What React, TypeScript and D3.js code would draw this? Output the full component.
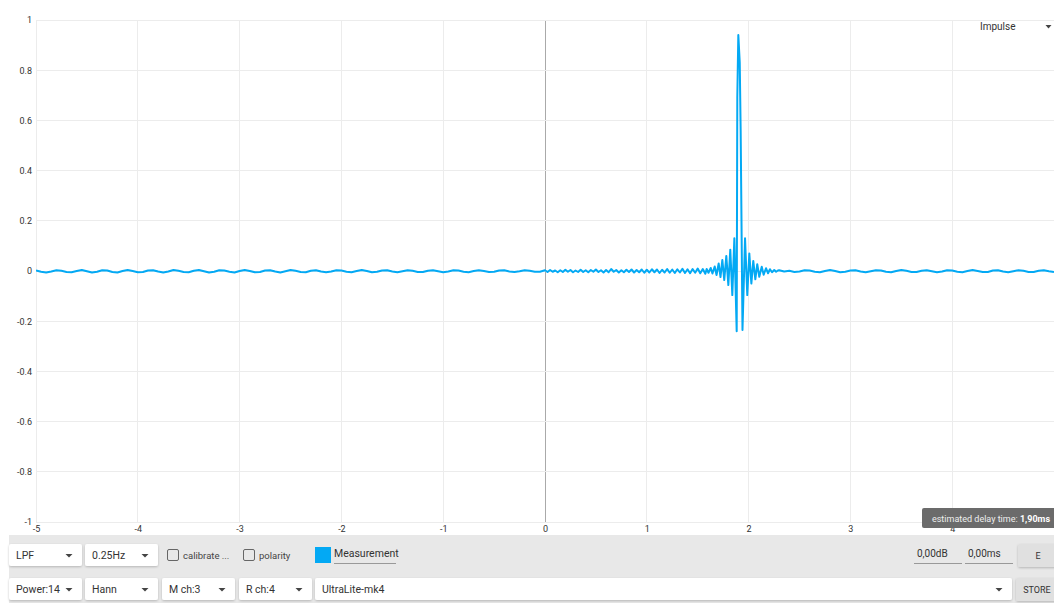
import * as d3 from "d3";
import React, { useEffect, useRef } from "react";

// impulse response samples (ms, amplitude)
const leftStart = -5;
const leftStep = 0.05;
const leftTail = [
  0.002, -0.003, -0.006, -0.002, 0.003, 0.001, -0.004, -0.005, 0.0, 0.004, -0.001, -0.006, -0.003, 0.003, 0.002, -0.004, -0.006, 0.0, 0.004, 0.0,
  -0.005, -0.004, 0.002, 0.003, -0.002, -0.006, -0.002, 0.004, 0.001, -0.004, -0.005, 0.001, 0.004, -0.001, -0.006, -0.003, 0.003, 0.002, -0.003, -0.006,
  0.0, 0.004, 0.0, -0.005, -0.004, 0.002, 0.003, -0.002, -0.006, -0.001, 0.004, 0.001, -0.004, -0.005, 0.001, 0.003, -0.002, -0.005, -0.002, 0.003,
  0.002, -0.003, -0.005, 0.0, 0.004, 0.0, -0.005, -0.003, 0.002, 0.003, -0.002, -0.005, -0.001, 0.003, 0.001, -0.004, -0.004, 0.001, 0.003, -0.001,
  -0.005, -0.002, 0.003, 0.002, -0.003, -0.005, 0.0, 0.003, 0.0, -0.004, -0.003, 0.002, 0.003, -0.002, -0.004, -0.001, 0.003, 0.001, -0.003, -0.003,
];

const preStart = 0;
const preStep = 0.025;
const preRing = [
  0.003, -0.004, 0.004, -0.003, 0.002, -0.005, 0.003, -0.004, 0.005, -0.003,
  0.004, -0.005, 0.002, -0.004, 0.005, -0.004, 0.003, -0.005, 0.004, -0.003,
  0.006, -0.004, 0.003, -0.006, 0.004, -0.005, 0.008, -0.003, 0.004, -0.006,
  0.003, -0.005, 0.005, -0.004, 0.006, -0.006, 0.004, -0.005, 0.006, -0.007,
  0.005, -0.006, 0.007, -0.005, 0.006, -0.008, 0.005, -0.006, 0.008, -0.007,
  0.006, -0.008, 0.007, -0.006, 0.009, -0.008, 0.007, -0.009, 0.008, -0.007,
  0.01, -0.009, 0.008, -0.011,
];

const impulseT = [
  1.588, 1.606, 1.628, 1.645, 1.667, 1.685, 1.706, 1.724, 1.742, 1.761, 1.781, 1.801, 1.82, 1.84, 1.86, 1.883, 1.889, 1.899, 1.913,
  1.922, 1.94, 1.965, 1.987, 2.007, 2.027, 2.046, 2.066, 2.085, 2.105, 2.129, 2.148, 2.171, 2.191, 2.21, 2.23, 2.252, 2.27, 2.288,
];
const impulseV = [
  0.008, -0.007, 0.012, -0.01, 0.018, -0.016, 0.03, -0.024, 0.044, -0.036, 0.06, -0.056, 0.085, -0.096, 0.13, -0.24, 0.69, 0.94, 0.83,
  0.56, -0.235, 0.13, -0.096, 0.07, -0.05, 0.04, -0.033, 0.027, -0.023, 0.017, -0.015, 0.011, -0.009, 0.007, -0.005, 0.004, -0.003, 0.002,
];

const rightStart = 2.3;
const rightStep = 0.05;
const rightTail = [
  0.003, -0.002, 0.001, -0.004, -0.002, 0.003, 0.002, -0.003, -0.005, 0.0,
  0.004, 0.0, -0.005, -0.003, 0.002, 0.003, -0.002, -0.005, -0.001, 0.003,
  0.002, -0.003, -0.005, 0.0, 0.004, 0.001, -0.004, -0.004, 0.001, 0.003,
  -0.001, -0.005, -0.002, 0.003, 0.002, -0.003, -0.005, 0.0, 0.004, 0.0,
  -0.004, -0.004, 0.002, 0.003, -0.002, -0.005, -0.001, 0.003, 0.001, -0.004,
  -0.004, 0.001, 0.003, -0.001, -0.004,
];

const xGrid = [-5, -4, -3, -2, -1, 0, 1, 2, 3, 4, 5];
const xTicks = [-5, -4, -3, -2, -1, 0, 1, 2, 3, 4];
const yTicks = [-1, -0.8, -0.6, -0.4, -0.2, 0, 0.2, 0.4, 0.6, 0.8, 1];

const row1Selects = [
  { label: "LPF", x: 9 },
  { label: "0.25Hz", x: 85 },
];
const row2Selects = [
  { label: "Power:14", x: 9 },
  { label: "Hann", x: 85 },
  { label: "M ch:3", x: 162 },
  { label: "R ch:4", x: 239 },
];

const FONT = "Roboto, 'Noto Sans', sans-serif";

export default function App() {
  const ref = useRef<SVGSVGElement>(null);

  useEffect(() => {
    const width = 1054;
    const height = 603;
    const svg = d3.select(ref.current);
    svg.selectAll("*").remove();
    svg.attr("width", width).attr("height", height).style("font-family", FONT);

    const x = d3.scaleLinear().domain([-5, 5]).range([36, 1054]);
    const y = d3.scaleLinear().domain([-1, 1]).range([522, 20]);

    const series = [
      ...leftTail.map((v, i) => ({ t: leftStart + i * leftStep, v })),
      ...preRing.map((v, i) => ({ t: preStart + i * preStep, v })),
      ...impulseT.map((t, i) => ({ t, v: impulseV[i] })),
      ...rightTail.map((v, i) => ({ t: rightStart + i * rightStep, v })),
    ];

    const defs = svg.append("defs");
    const f = defs.append("filter").attr("id", "shadow").attr("x", "-10%").attr("y", "-20%").attr("width", "120%").attr("height", "150%");
    f.append("feDropShadow").attr("dx", 0).attr("dy", 1).attr("stdDeviation", 1).attr("flood-color", "#000").attr("flood-opacity", 0.22);
    defs.append("clipPath").attr("id", "plot").append("rect").attr("x", 36).attr("y", 18).attr("width", 1018).attr("height", 506);

    // grid
    const grid = svg.append("g");
    grid.selectAll("line.v").data(xGrid).join("line")
      .attr("x1", d => x(d)).attr("x2", d => x(d)).attr("y1", y(1)).attr("y2", y(-1))
      .attr("stroke", d => (d === 0 ? "#aaaaaa" : "#ececec")).attr("stroke-width", 1)
      .attr("shape-rendering", "crispEdges");
    grid.selectAll("line.h").data(yTicks).join("line")
      .attr("x1", x(-5)).attr("x2", x(5)).attr("y1", d => y(d)).attr("y2", d => y(d))
      .attr("stroke", "#ececec").attr("stroke-width", 1).attr("shape-rendering", "crispEdges");

    // axes
    const yAxis = svg.append("g").attr("transform", `translate(${x(-5)},0)`)
      .call(d3.axisLeft(y).tickValues(yTicks).tickSize(0).tickPadding(4).tickFormat(d => String(d)));
    const xAxis = svg.append("g").attr("transform", `translate(0,${y(-1)})`)
      .call(d3.axisBottom(x).tickValues(xTicks).tickSize(0).tickPadding(4).tickFormat(d => String(d)));
    [yAxis, xAxis].forEach(a => {
      a.select(".domain").remove();
      a.selectAll("text").attr("fill", "#333").style("font-size", "9px").style("font-family", FONT);
    });

    // impulse line
    const line = d3.line<{ t: number; v: number }>().x(d => x(d.t)).y(d => y(d.v));
    svg.append("path").datum(series)
      .attr("clip-path", "url(#plot)")
      .attr("fill", "none").attr("stroke", "#03a9f4").attr("stroke-width", 2)
      .attr("stroke-linejoin", "round").attr("d", line);

    // Impulse selector
    svg.append("text").attr("x", 980).attr("y", 29.5).attr("fill", "#333").style("font-size", "10px").text("Impulse");
    svg.append("path").attr("d", "M1045.5,25 L1051.5,25 L1048.5,28.5 Z").attr("fill", "#444");

    // tooltip
    svg.append("rect").attr("x", 922).attr("y", 508).attr("width", 134).attr("height", 20).attr("rx", 2).attr("fill", "#6b6b6b");
    const tt = svg.append("text").attr("x", 1050).attr("y", 521.5).attr("text-anchor", "end").attr("fill", "#fff").style("font-size", "9px");
    tt.append("tspan").attr("fill", "#eee").text("estimated delay time: ");
    tt.append("tspan").attr("font-weight", "bold").text("1,90ms");

    // toolbar
    const bar = svg.append("g");
    bar.append("rect").attr("x", 9).attr("y", 535).attr("width", 1045).attr("height", 68).attr("fill", "#e8e8e8");

    const select = (label: string, bx: number, by: number, w: number) => {
      const g = bar.append("g");
      g.append("rect").attr("x", bx).attr("y", by).attr("width", w).attr("height", 22).attr("rx", 2)
        .attr("fill", "#fff").attr("filter", "url(#shadow)");
      g.append("text").attr("x", bx + 7).attr("y", by + 15).attr("fill", "#333").style("font-size", "10.5px").text(label);
      const cx = bx + w - 13;
      g.append("path").attr("d", `M${cx - 3.5},${by + 10} L${cx + 3.5},${by + 10} L${cx},${by + 13.5} Z`).attr("fill", "#444");
    };
    row1Selects.forEach(s => select(s.label, s.x, 544, 73));
    row2Selects.forEach(s => select(s.label, s.x, 578, 73));
    select("UltraLite-mk4", 315, 578, 697);

    const checkbox = (bx: number, label: string) => {
      bar.append("rect").attr("x", bx + 0.5).attr("y", 549.5).attr("width", 11).attr("height", 11).attr("rx", 1.5)
        .attr("fill", "none").attr("stroke", "#666").attr("stroke-width", 1);
      bar.append("text").attr("x", bx + 16).attr("y", 558.5).attr("fill", "#444").style("font-size", "9.5px").text(label);
    };
    checkbox(167, "calibrate  ...");
    checkbox(243, "polarity");

    bar.append("rect").attr("x", 315).attr("y", 547).attr("width", 16).attr("height", 16).attr("fill", "#03a9f4");
    bar.append("text").attr("x", 334).attr("y", 557).attr("fill", "#333").style("font-size", "10.5px").text("Measurement");
    bar.append("line").attr("x1", 334).attr("x2", 396).attr("y1", 563.5).attr("y2", 563.5).attr("stroke", "#999");

    const field = (fx: number, label: string) => {
      bar.append("text").attr("x", fx + 3).attr("y", 557).attr("fill", "#333").style("font-size", "10px").text(label);
      bar.append("line").attr("x1", fx).attr("x2", fx + 48).attr("y1", 563.5).attr("y2", 563.5).attr("stroke", "#999");
    };
    field(914, "0,00dB");
    field(965, "0,00ms");

    const button = (bx: number, by: number, w: number, label: string) => {
      bar.append("rect").attr("x", bx).attr("y", by).attr("width", w).attr("height", 23).attr("rx", 2)
        .attr("fill", "#e0e0e0").attr("filter", "url(#shadow)");
      bar.append("text").attr("x", bx + w / 2).attr("y", by + 15).attr("text-anchor", "middle").attr("fill", "#333")
        .style("font-size", "9px").text(label);
    };
    button(1018, 544, 40, "E");
    button(1016, 578, 42, "STORE");
  }, []);

  return (
    <div style={{ position: "absolute", left: 0, top: 0 }}>
      <svg ref={ref} style={{ display: "block" }} />
    </div>
  );
}
